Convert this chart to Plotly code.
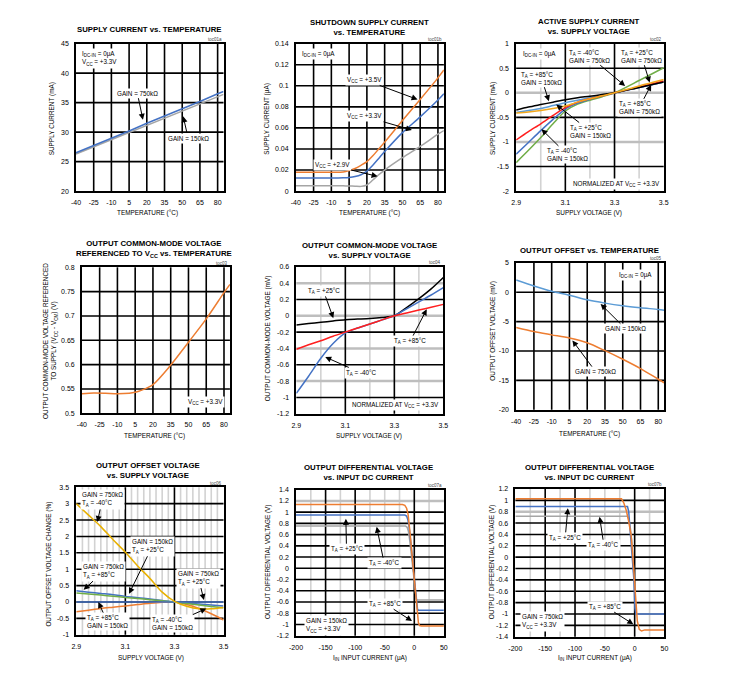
import plotly.graph_objects as go

PAGE_W, PAGE_H = 741, 679
OFF = 8  # default body margin of the html page
W, H = PAGE_W - OFF, PAGE_H - OFF
FONT = "Liberation Sans, Arial, Helvetica, sans-serif"

BLUE = "#4472C4"
LBLUE = "#5B9BD5"
ORANGE = "#ED7D31"
GOLD = "#F2A81D"
YELLOW = "#E8B000"
GRAY = "#A5A5A5"
RED = "#FF1F1F"
GREEN = "#70AD47"
BLACK = "#000000"

# ---------------- data ----------------
temp_ticks = [-40, -25, -10, 5, 20, 35, 50, 65, 80]
vcc_ticks = [2.9, 3.1, 3.3, 3.5]
iin_ticks = [-200, -150, -100, -50, 0, 50]

# Panel 1: supply current vs temperature
p1_temp = [-40, -25, -10, 5, 20, 35, 50, 65, 80, 85]
p1_gain750 = [26.5, 27.7, 29.0, 30.2, 31.5, 32.7, 34.0, 35.2, 36.5, 36.9]
p1_gain150 = [26.3, 27.5, 28.7, 29.9, 31.1, 32.3, 33.5, 34.7, 35.9, 36.4]
p1_yticks = [20, 25, 30, 35, 40, 45]

# Panel 2: shutdown supply current vs temperature
p2_temp = [-40, -25, -10, 0, 5, 10, 15, 20, 25, 30, 35, 50, 65, 80, 85]
p2_vcc35 = [0.018, 0.018, 0.018, 0.0182, 0.0195, 0.0215, 0.0245, 0.028, 0.0335, 0.040, 0.0465, 0.067, 0.087, 0.1075, 0.115]
p2_vcc33 = [0.0125, 0.0125, 0.0125, 0.0127, 0.013, 0.0138, 0.0155, 0.019, 0.0245, 0.031, 0.0375, 0.0555, 0.0705, 0.0865, 0.0925]
p2_vcc29 = [0.005, 0.005, 0.005, 0.005, 0.0049, 0.0047, 0.0045, 0.0058, 0.0105, 0.0155, 0.020, 0.0317, 0.0425, 0.054, 0.0575]
p2_yticks = [0, 0.02, 0.04, 0.06, 0.08, 0.1, 0.12, 0.14]

# Panel 3: active supply current vs supply voltage
p3_vcc = [2.9, 2.95, 3.0, 3.05, 3.1, 3.15, 3.2, 3.25, 3.3, 3.4, 3.5]
p3_m40_750 = [-1.42, -1.17, -0.91, -0.63, -0.37, -0.23, -0.15, -0.08, 0, 0.25, 0.51]
p3_p25_750 = [-0.41, -0.39, -0.36, -0.32, -0.27, -0.19, -0.12, -0.06, 0, 0.14, 0.27]
p3_p85_150 = [-0.35, -0.29, -0.24, -0.19, -0.14, -0.10, -0.07, -0.035, 0, 0.11, 0.22]
p3_p85_750 = [-0.40, -0.36, -0.32, -0.26, -0.20, -0.15, -0.10, -0.05, 0, 0.11, 0.22]
p3_p25_150 = [-0.96, -0.79, -0.63, -0.46, -0.30, -0.19, -0.12, -0.06, 0, 0.12, 0.24]
p3_m40_150 = [-1.25, -1.01, -0.77, -0.54, -0.33, -0.21, -0.13, -0.065, 0, 0.11, 0.22]
p3_yticks = [-2, -1.5, -1, -0.5, 0, 0.5, 1]

# Panel 4: output common-mode voltage referenced to Vcc vs temperature
p4_temp = [-40, -30, -20, -10, 0, 5, 10, 20, 35, 50, 65, 80, 85]
p4_vcm = [0.540, 0.5415, 0.541, 0.540, 0.541, 0.543, 0.547, 0.559, 0.599, 0.646, 0.694, 0.748, 0.765]
p4_yticks = [0.5, 0.55, 0.6, 0.65, 0.7, 0.75, 0.8]

# Panel 5: output common-mode voltage vs supply voltage
p5_vcc = [2.9, 2.95, 3.0, 3.05, 3.1, 3.15, 3.2, 3.25, 3.3, 3.35, 3.4, 3.45, 3.5]
p5_p25 = [-0.112, -0.095, -0.08, -0.063, -0.047, -0.04, -0.033, -0.02, 0, 0.1, 0.21, 0.33, 0.47]
p5_p85 = [-0.41, -0.355, -0.305, -0.25, -0.2, -0.15, -0.1, -0.05, 0, 0.035, 0.07, 0.105, 0.14]
p5_m40 = [-0.95, -0.74, -0.52, -0.34, -0.21, -0.15, -0.1, -0.05, 0, 0.085, 0.17, 0.255, 0.345]
p5_yticks = [-1.2, -1, -0.8, -0.6, -0.4, -0.2, 0, 0.2, 0.4, 0.6]

# Panel 6: output offset vs temperature
p6_temp = [-40, -25, -10, 5, 20, 35, 50, 65, 80, 85]
p6_gain150 = [2.08, 1.07, 0.17, -0.5, -1.29, -1.85, -2.3, -2.64, -2.92, -3.05]
p6_gain750 = [-6.0, -6.69, -7.25, -7.8, -8.6, -9.94, -11.4, -12.98, -14.8, -15.4]
p6_yticks = [-20, -15, -10, -5, 0, 5]

# Panel 7: output offset voltage change vs supply voltage
p7_vcc = [2.9, 2.95, 3.0, 3.05, 3.1, 3.15, 3.2, 3.25, 3.3, 3.35, 3.4, 3.45, 3.5]
p7_750_m40 = [3.0, 2.65, 2.3, 1.9, 1.52, 1.1, 0.72, 0.30, 0.02, -0.13, -0.21, -0.21, -0.17]
p7_750_p85 = [0.34, 0.30, 0.26, 0.22, 0.17, 0.13, 0.09, 0.045, 0.0, -0.03, -0.06, -0.09, -0.12]
p7_150_p25 = [0.27, 0.24, 0.21, 0.175, 0.14, 0.105, 0.07, 0.035, 0.0, -0.045, -0.09, -0.135, -0.18]
p7_150_p85 = [-0.30, -0.25, -0.20, -0.16, -0.12, -0.08, -0.04, -0.01, 0.0, -0.08, -0.20, -0.36, -0.55]
p7_750_p25 = [0.0, 0.0, 0.0, 0.0, 0.0, 0.0, 0.0, 0.0, 0.0, 0.0, 0.0, 0.0, 0.0]
p7_yticks = [-1, -0.5, 0, 0.5, 1, 1.5, 2, 2.5, 3, 3.5]

# Panel 8: output differential voltage vs input DC current (gain 150k)
p8_m40_x = [-200, -15, -12, -10, -8, -6, -3, 0, 2, 3.5, 5, 50]
p8_m40_y = [0.755, 0.755, 0.73, 0.66, 0.52, 0.33, 0.0, -0.33, -0.5, -0.56, -0.566, -0.566]
p8_p25_x = [-200, -16, -13, -11, -9, -7, -4, -1, 2, 4, 5.5, 7, 50]
p8_p25_y = [0.948, 0.948, 0.93, 0.87, 0.76, 0.6, 0.27, -0.07, -0.42, -0.64, -0.73, -0.748, -0.748]
p8_p85_x = [-200, -20, -16, -13, -10.5, -8.7, -7, -4, -1, 2, 5, 7, 9, 12, 50]
p8_p85_y = [1.135, 1.135, 1.12, 1.07, 0.96, 0.8, 0.61, 0.26, -0.08, -0.42, -0.77, -0.97, -1.02, -1.025, -1.025]
p8_yticks = [-1.2, -1, -0.8, -0.6, -0.4, -0.2, 0, 0.2, 0.4, 0.6, 0.8, 1, 1.2, 1.4]

# Panel 9: output differential voltage vs input DC current (gain 750k)
p9_m40_x = [-200, -12, -10, -7, -4, -1.5, 0.5, 2, 50]
p9_m40_y = [0.72, 0.72, 0.68, 0.5, 0.2, -0.3, -0.8, -1.0, -1.0]
p9_p25_x = [-200, -12, -10, -7.7, -3.8, -1.1, 0.5, 2, 50]
p9_p25_y = [0.89, 0.89, 0.8, 0.45, 0.04, -0.42, -0.9, -1.0, -1.0]
p9_p85_x = [-200, -22, -18, -14, -10.4, -6, -3.3, -1.1, 1.6, 4.4, 7.7, 11.5, 17, 50]
p9_p85_y = [1.026, 1.026, 0.95, 0.82, 0.65, 0.39, 0.04, -0.31, -0.72, -1.12, -1.27, -1.30, -1.28, -1.28]
p9_yticks = [-1.4, -1.2, -1, -0.8, -0.6, -0.4, -0.2, 0, 0.2, 0.4, 0.6, 0.8, 1, 1.2]

# ---------------- layout definitions (page pixel boxes) ----------------
PANELS = {
    1: dict(box=(70, 40, 220, 189), xr=[-40, 85], yr=[20, 45], xt=temp_ticks, yt=p1_yticks,
            gxb=[-25, -10, 5, 20, 35, 50, 65, 80], gxg=[], gyb=[25, 30, 35, 40], gyg=[], toc="toc01a"),
    2: dict(box=(293.5, 40, 444, 189), xr=[-40, 85], yr=[0, 0.14], xt=temp_ticks, yt=p2_yticks,
            gxb=[-25, -10, 5, 20, 35, 50, 65, 80], gxg=[], gyb=[0.02, 0.04, 0.06, 0.08, 0.1, 0.12], gyg=[], toc="toc01b"),
    3: dict(box=(517.5, 40, 667.5, 189), xr=[2.9, 3.5], yr=[-2, 1], xt=vcc_ticks, yt=p3_yticks,
            gxb=[3.1, 3.3], gxg=[3.0, 3.2, 3.4], gyb=[0.5, -0.5, -1.5], gyg=[0, -1], toc="toc02"),
    4: dict(box=(76, 266, 226.5, 413.5), xr=[-40, 85], yr=[0.5, 0.8], xt=temp_ticks, yt=p4_yticks,
            gxb=[-25, -10, 5, 20, 35, 50, 65, 80], gxg=[], gyb=[0.55, 0.6, 0.65, 0.7, 0.75], gyg=[], toc="toc03"),
    5: dict(box=(294, 265.5, 443.5, 414), xr=[2.9, 3.5], yr=[-1.2, 0.6], xt=vcc_ticks, yt=p5_yticks,
            gxb=[3.1, 3.3], gxg=[3.0, 3.2, 3.4], gyb=[0.2, -0.2, -0.6, -1.0], gyg=[0.4, 0, -0.4, -0.8], toc="toc04"),
    6: dict(box=(517.5, 261.5, 668, 410), xr=[-40, 85], yr=[-20, 5], xt=temp_ticks, yt=p6_yticks,
            gxb=[-25, -10, 5, 20, 35, 50, 65, 80], gxg=[], gyb=[0, -5, -10, -15], gyg=[], toc="toc05"),
    7: dict(box=(70.3, 488.3, 220, 637.3), xr=[2.9, 3.5], yr=[-1, 3.5], xt=vcc_ticks, yt=p7_yticks,
            gxb=[3.1, 3.3],
            gxg=[2.925, 2.95, 2.975, 3.0, 3.025, 3.05, 3.075, 3.125, 3.15, 3.175, 3.2, 3.225, 3.25, 3.275,
                 3.325, 3.35, 3.375, 3.4, 3.425, 3.45, 3.475],
            gyb=[3, 2.5, 2, 1.5, 1, 0.5, 0, -0.5], gyg=[], toc="toc06"),
    8: dict(box=(293.7, 490.7, 444, 638.3), xr=[-200, 50], yr=[-1.2, 1.4], xt=iin_ticks, yt=p8_yticks,
            gxb=[-150, -100, 0], gxg=[-175, -125, -75, -50, -25, 25],
            gyb=[-1.0, -0.8, -0.6, -0.4, -0.2, 0, 0.2, 0.4, 0.6, 0.8, 1.0], gyg=[1.2], toc="toc07a"),
    9: dict(box=(516.7, 490, 668.3, 639.3), xr=[-200, 50], yr=[-1.4, 1.2], xt=iin_ticks, yt=p9_yticks,
            gxb=[-150, -100, 0], gxg=[-175, -125, -75, -50, -25, 25],
            gyb=[-1.2, -1.0, -0.8, -0.6, -0.4, -0.2, 0, 0.2, 0.4, 0.6, 1.0], gyg=[0.8], toc="toc07b"),
}

TITLES = {
    1: ("SUPPLY CURRENT vs. TEMPERATURE", 145, 26),
    2: ("SHUTDOWN SUPPLY CURRENT<br>vs. TEMPERATURE", 368, 24),
    3: ("ACTIVE SUPPLY CURRENT<br>vs. SUPPLY VOLTAGE", 592, 23),
    4: ("OUTPUT COMMON-MODE VOLTAGE<br>REFERENCED TO V<sub>CC</sub> vs. TEMPERATURE", 149, 248),
    5: ("OUTPUT COMMON-MODE VOLTAGE<br>vs. SUPPLY VOLTAGE", 368, 249),
    6: ("OUTPUT OFFSET vs. TEMPERATURE", 592, 249),
    7: ("OUTPUT OFFSET VOLTAGE<br>vs. SUPPLY VOLTAGE", 143, 471),
    8: ("OUTPUT DIFFERENTIAL VOLTAGE<br>vs. INPUT DC CURRENT", 367, 473),
    9: ("OUTPUT DIFFERENTIAL VOLTAGE<br>vs. INPUT DC CURRENT", 592, 473),
}

XTITLES = {
    1: ("TEMPERATURE (°C)", 143, 211),
    2: ("TEMPERATURE (°C)", 368, 211),
    3: ("SUPPLY VOLTAGE (V)", 592, 211),
    4: ("TEMPERATURE (°C)", 150, 436),
    5: ("SUPPLY VOLTAGE (V)", 368, 436),
    6: ("TEMPERATURE (°C)", 592, 434),
    7: ("SUPPLY VOLTAGE (V)", 146, 661),
    8: ("I<sub>IN</sub> INPUT CURRENT (μA)", 369, 661),
    9: ("I<sub>IN</sub> INPUT CURRENT (μA)", 598, 661),
}

YTITLES = {
    1: ("SUPPLY CURRENT (mA)", 45, 116),
    2: ("SUPPLY CURRENT (μA)", 264, 116),
    3: ("SUPPLY CURRENT (mA)", 494, 116),
    4: ("OUTPUT COMMON-MODE VOLTAGE REFERENCED<br>TO SUPPLY (V<sub>CC</sub> - V<sub>CM</sub>) (V)", 44, 340),
    5: ("OUTPUT COMMON-MODE VOLTAGE (mV)", 265, 338),
    6: ("OUTPUT OFFSET VOLTAGE (mV)", 494, 330),
    7: ("OUTPUT OFFSET VOLTAGE CHANGE (%)", 43, 566),
    8: ("OUTPUT DIFFERENTIAL VOLTAGE (V)", 265, 564),
    9: ("OUTPUT DIFFERENTIAL VOLTAGE (V)", 493, 564),
}

TA = "T<sub>A</sub> = "
NOTES = {
    1: [("I<sub>DC-IN</sub> = 0μA<br>V<sub>CC</sub> = +3.3V", -20, 42.4, None, None),
        ("GAIN = 750kΩ", 12, 36.6, 16.7, 32.1),
        ("GAIN = 150kΩ", 55, 29.0, 50.8, 32.7)],
    2: [("I<sub>DC-IN</sub> = 0μA", -20.6, 0.130, None, None),
        ("V<sub>CC</sub> = +3.5V", 18.3, 0.1056, 62.8, 0.087),
        ("V<sub>CC</sub> = +3.3V", 18, 0.071, 58, 0.058),
        ("V<sub>CC</sub> = +2.9V", -9.4, 0.0244, 29, 0.014)],
    3: [("I<sub>DC-IN</sub> = 0μA", 2.996, 0.786, None, None),
        (TA + "-40°C<br>GAIN = 750kΩ", 3.198, 0.745, 3.343, 0.14),
        (TA + "+25°C<br>GAIN = 750kΩ", 3.41, 0.745, 3.443, 0.21),
        (TA + "+85°C<br>GAIN = 150kΩ", 3.003, 0.297, 3.033, -0.17),
        (TA + "+85°C<br>GAIN = 750kΩ", 3.4, -0.306, 3.449, 0.163),
        (TA + "+25°C<br>GAIN = 150kΩ", 3.203, -0.788, 3.063, -0.24),
        (TA + "-40°C<br>GAIN = 150kΩ", 3.109, -1.264, 3.003, -0.74),
        ("NORMALIZED AT V<sub>CC</sub> = +3.3V", 3.309, -1.847, None, None)],
    4: [("V<sub>CC</sub> = +3.3V", 64.2, 0.524, None, None)],
    5: [(TA + "+25°C", 3.011, 0.305, 3.051, -0.03),
        (TA + "+85°C", 3.365, -0.31, 3.432, 0.08),
        (TA + "-40°C", 3.165, -0.70, 3.018, -0.505),
        ("NORMALIZED AT V<sub>CC</sub> = +3.3V", 3.305, -1.095, None, None)],
    6: [("I<sub>DC-IN</sub> = 0μA", 60.7, 2.87, None, None),
        ("GAIN = 150kΩ", 52.3, -6.2, 31.3, -2.0),
        ("GAIN = 750kΩ", 27.1, -13.5, 7.5, -8.2)],
    7: [("GAIN = 750kΩ<br>" + TA + "-40°C", 3.006, 3.13, 2.986, 2.44),
        ("GAIN = 150kΩ<br>" + TA + "+25°C", 3.21, 1.70, 3.115, 0.25),
        ("GAIN = 750kΩ<br>" + TA + "+85°C", 3.012, 0.94, 2.93, 0.37),
        ("GAIN = 750kΩ<br>" + TA + "+25°C", 3.398, 0.73, 3.42, 0.06),
        (TA + "+85°C<br>GAIN = 150kΩ", 3.026, -0.60, 2.99, 0.0),
        (TA + "-40°C<br>GAIN = 150kΩ", 3.293, -0.66, 3.43, -0.2)],
    8: [(TA + "+25°C", -114.6, 0.34, -115.7, 0.88),
        (TA + "-40°C", -50.9, 0.09, -63.6, 0.74),
        (TA + "+85°C", -49.2, -0.63, -3.8, -0.94),
        ("GAIN = 150kΩ<br>V<sub>CC</sub> = +3.3V", -149, -1.015, None, None)],
    9: [(TA + "+25°C", -116.5, 0.34, -112, 0.86),
        (TA + "-40°C", -51.6, 0.21, -58.8, 0.71),
        (TA + "+85°C", -49, -0.87, -2.2, -1.18),
        ("GAIN = 750kΩ<br>V<sub>CC</sub> = +3.3V", -154, -1.13, None, None)],
}

# ---------------- build figure ----------------
fig = go.Figure()


def ids(n):
    return ("x", "y") if n == 1 else (f"x{n}", f"y{n}")


def add_line(n, x, y, color, shape="spline", width=1.5):
    xi, yi = ids(n)
    line = dict(color=color, width=width, shape=shape)
    if shape == "spline":
        line["smoothing"] = 0.8
    fig.add_trace(go.Scatter(x=x, y=y, xaxis=xi, yaxis=yi, mode="lines", line=line,
                             hoverinfo="skip", showlegend=False))


add_line(1, p1_temp, p1_gain150, GRAY, "linear")
add_line(1, p1_temp, p1_gain750, BLUE, "linear")

add_line(2, p2_temp, p2_vcc29, GRAY)
add_line(2, p2_temp, p2_vcc33, BLUE)
add_line(2, p2_temp, p2_vcc35, ORANGE)

add_line(3, p3_vcc, p3_m40_750, GREEN)
add_line(3, p3_vcc, p3_m40_150, BLUE)
add_line(3, p3_vcc, p3_p85_750, LBLUE)
add_line(3, p3_vcc, p3_p25_150, RED)
add_line(3, p3_vcc, p3_p85_150, BLACK)
add_line(3, p3_vcc, p3_p25_750, GOLD)

add_line(4, p4_temp, p4_vcm, ORANGE)

add_line(5, p5_vcc, p5_p25, BLACK)
add_line(5, p5_vcc, p5_m40, BLUE)
add_line(5, p5_vcc, p5_p85, RED)

add_line(6, p6_temp, p6_gain150, LBLUE)
add_line(6, p6_temp, p6_gain750, ORANGE)

add_line(7, p7_vcc, p7_150_p85, ORANGE)
add_line(7, p7_vcc, p7_750_p85, BLUE)
add_line(7, p7_vcc, p7_150_p25, GREEN)
add_line(7, p7_vcc, p7_750_p25, BLUE)
add_line(7, p7_vcc, p7_750_m40, YELLOW)

add_line(8, p8_m40_x, p8_m40_y, GRAY, "linear")
add_line(8, p8_p25_x, p8_p25_y, BLUE, "linear")
add_line(8, p8_p85_x, p8_p85_y, ORANGE, "linear")

add_line(9, p9_m40_x, p9_m40_y, GRAY, "linear")
add_line(9, p9_p25_x, p9_p25_y, BLUE, "linear")
add_line(9, p9_p85_x, p9_p85_y, ORANGE, "linear")


def px(x):
    return (x - OFF) / W


def py(y):
    return 1 - (y - OFF) / H


def fmt(v):
    return ("%g" % v)


layout = dict(
    width=W, height=H, autosize=False,
    margin=dict(l=0, r=0, t=0, b=0, pad=0),
    paper_bgcolor="white", plot_bgcolor="white",
    font=dict(family=FONT, size=7, color="black"),
    showlegend=False,
)
shapes = []
annotations = []
TXT = dict(family=FONT, size=6.4, color="black")
NOTE = dict(family=FONT, size=6.3, color="black")

for n, p in PANELS.items():
    x0, y0, x1, y1 = p["box"]
    xi, yi = ids(n)
    xk = "xaxis" if n == 1 else f"xaxis{n}"
    yk = "yaxis" if n == 1 else f"yaxis{n}"
    common = dict(showgrid=False, zeroline=False, showline=True, mirror=True, linecolor="black",
                  linewidth=1.6, ticks="", tickfont=dict(family=FONT, size=7, color="black"),
                  fixedrange=True, ticklabelstandoff=4)
    layout[xk] = dict(domain=[px(x0), px(x1)], range=p["xr"], anchor=yi,
                      tickmode="array", tickvals=p["xt"], ticktext=[fmt(v) for v in p["xt"]], **common)
    layout[yk] = dict(domain=[py(y1), py(y0)], range=p["yr"], anchor=xi,
                      tickmode="array", tickvals=p["yt"], ticktext=[fmt(v) for v in p["yt"]], **common)
    for v in p["gxg"]:
        shapes.append(dict(type="line", xref=xi, yref=f"{yi} domain", x0=v, x1=v, y0=0, y1=1,
                           line=dict(color="#D2D2D2", width=1.6), layer="below"))
    for v in p["gyg"]:
        shapes.append(dict(type="line", yref=yi, xref=f"{xi} domain", y0=v, y1=v, x0=0, x1=1,
                           line=dict(color="#BEBEBE", width=2.5), layer="below"))
    for v in p["gxb"]:
        shapes.append(dict(type="line", xref=xi, yref=f"{yi} domain", x0=v, x1=v, y0=0, y1=1,
                           line=dict(color="black", width=1.6), layer="below"))
    for v in p["gyb"]:
        shapes.append(dict(type="line", yref=yi, xref=f"{xi} domain", y0=v, y1=v, x0=0, x1=1,
                           line=dict(color="black", width=1.6), layer="below"))
    # toc label
    annotations.append(dict(xref="paper", yref="paper", x=px(x1), y=py(y0 + 0.5), text=p["toc"],
                            showarrow=False, xanchor="right", yanchor="bottom",
                            font=dict(family=FONT, size=4.5, color="#444")))
    # title
    t, cx, cy = TITLES[n]
    annotations.append(dict(xref="paper", yref="paper", x=px(cx), y=py(cy), text="<b>" + t + "</b>",
                            showarrow=False, xanchor="center", yanchor="middle",
                            font=dict(family=FONT, size=7.8, color="black")))
    t, cx, cy = XTITLES[n]
    annotations.append(dict(xref="paper", yref="paper", x=px(cx), y=py(cy), text=t,
                            showarrow=False, xanchor="center", yanchor="middle", font=TXT))
    t, cx, cy = YTITLES[n]
    annotations.append(dict(xref="paper", yref="paper", x=px(cx), y=py(cy), text=t, textangle=-90,
                            showarrow=False, xanchor="center", yanchor="middle", font=TXT))
    for (t, tx, ty, hx, hy) in NOTES[n]:
        if hx is None:
            annotations.append(dict(xref=xi, yref=yi, x=tx, y=ty, text=t, showarrow=False,
                                    xanchor="center", yanchor="middle", align="left",
                                    bgcolor="white", borderpad=1, font=NOTE))
        else:
            annotations.append(dict(xref=xi, yref=yi, x=hx, y=hy, ax=tx, ay=ty, axref=xi, ayref=yi,
                                    text=t, showarrow=True, arrowhead=2, arrowsize=1.2, arrowwidth=1,
                                    arrowcolor="black", bgcolor="white", borderpad=1, align="left",
                                    font=NOTE))

layout["shapes"] = shapes
layout["annotations"] = annotations
fig.update_layout(**layout)

fig.write_html("out.html")
